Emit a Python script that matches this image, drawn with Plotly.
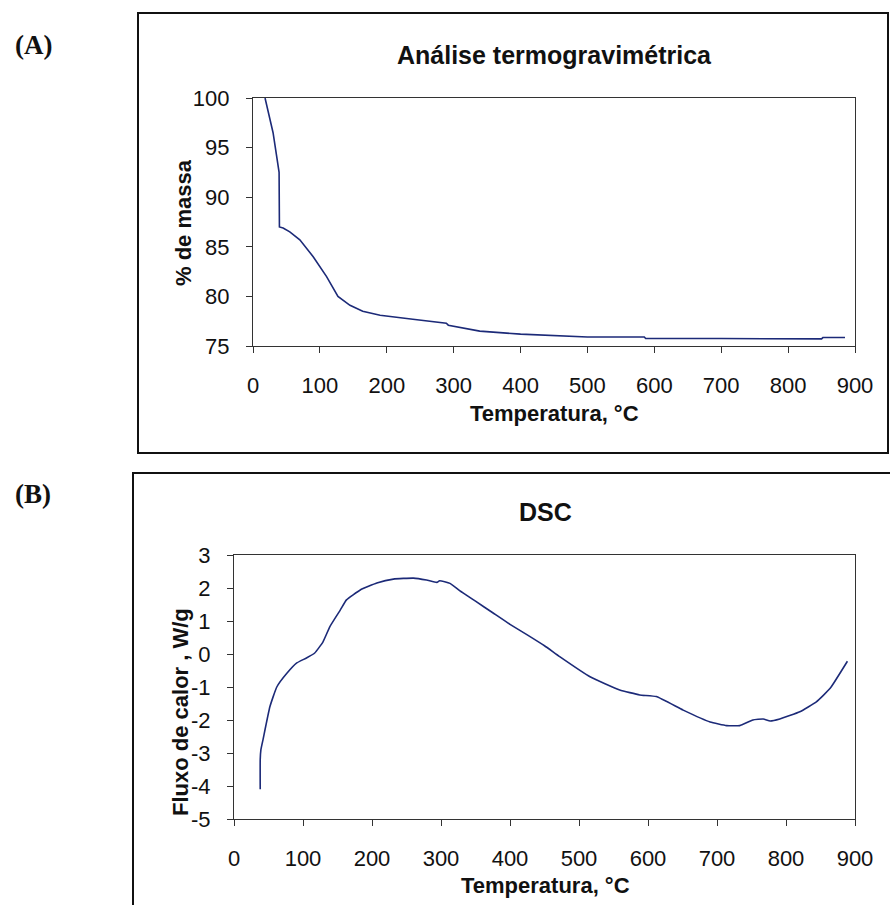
import plotly.graph_objects as go

# ---------------- data ----------------
tga_temp = [18, 25, 30, 35, 38, 39, 39.5, 45, 55, 70, 90, 110, 127, 145, 164, 190,
            239, 289, 292, 300, 339, 400, 450, 500, 585, 587, 700, 800, 850, 852, 885]
tga_mass = [100, 98.0, 96.5, 94.3, 93.0, 92.5, 87.0, 86.9, 86.5, 85.7, 84.0, 82.0, 80.0,
            79.1, 78.5, 78.1, 77.7, 77.3, 77.1, 77.0, 76.5, 76.2, 76.05, 75.9, 75.9,
            75.75, 75.75, 75.72, 75.72, 75.85, 75.85]

dsc_temp = [38, 38, 39, 42, 52, 62, 76, 91, 105, 117, 129, 139, 154, 163, 183, 207,
            231, 260, 279, 294, 298, 313, 327, 350, 375, 400, 425, 450, 472, 516,
            559, 588, 612, 651, 690, 714, 733, 752, 767, 777, 791, 820, 844, 864, 889]
dsc_flow = [-4.1, -3.2, -2.9, -2.6, -1.6, -1.0, -0.6, -0.27, -0.12, 0.03, 0.37, 0.83,
            1.33, 1.64, 1.94, 2.15, 2.27, 2.30, 2.24, 2.17, 2.22, 2.14, 1.92, 1.6,
            1.25, 0.9, 0.58, 0.25, -0.08, -0.69, -1.09, -1.24, -1.29, -1.7, -2.06,
            -2.17, -2.17, -2.0, -1.97, -2.03, -1.97, -1.75, -1.45, -1.04, -0.22]

x_ticks = [0, 100, 200, 300, 400, 500, 600, 700, 800, 900]
x_ticktext = ["0", "100", "200", "300", "400", "500", "600", "700", "800", "900"]
tga_yticks = [75, 80, 85, 90, 95, 100]
tga_yticktext = ["75", "80", "85", "90", "95", "100"]
dsc_yticks = [-5, -4, -3, -2, -1, 0, 1, 2, 3]
dsc_yticktext = ["-5", "-4", "-3", "-2", "-1", "0", "1", "2", "3"]

title_a = "Análise termogravimétrica"
title_b = "DSC"
xtitle = "Temperatura, °C"
ytitle_a = "% de massa"
ytitle_b = "Fluxo de calor , W/g"

# ---------------- layout helpers ----------------
W, H = 890, 905
def px(x):
    return x / W
def py(y):
    return 1 - y / H

LINE = "#1c2a78"
FONT = "Liberation Sans"
TICKF = dict(family=FONT, size=22, color="#111111")

fig = go.Figure()
fig.add_trace(go.Scatter(x=tga_temp, y=tga_mass, mode="lines",
                         line=dict(color=LINE, width=1.6), xaxis="x", yaxis="y",
                         showlegend=False))
fig.add_trace(go.Scatter(x=dsc_temp, y=dsc_flow, mode="lines",
                         line=dict(color=LINE, width=1.6, shape="spline", smoothing=0.4),
                         xaxis="x2", yaxis="y2", showlegend=False))

axis_common = dict(showgrid=False, zeroline=False, showline=True, linecolor="#333333",
                   linewidth=1.3, mirror=True, ticks="outside", ticklen=6,
                   tickcolor="#333333", tickwidth=1.3, tickfont=TICKF, fixedrange=True,
                   automargin=False)

fig.update_layout(
    width=W, height=H, margin=dict(l=0, r=0, t=0, b=0, pad=0), autosize=False,
    paper_bgcolor="white", plot_bgcolor="white",
    xaxis=dict(domain=[px(253), px(855)], range=[0, 900], tickvals=x_ticks,
               ticktext=x_ticktext, anchor="y", ticklabelstandoff=13, **axis_common),
    yaxis=dict(domain=[py(346), py(98)], range=[75, 100], tickvals=tga_yticks,
               ticktext=tga_yticktext, anchor="x", ticklabelstandoff=12, **axis_common),
    xaxis2=dict(domain=[px(234), px(855)], range=[0, 900], tickvals=x_ticks,
                ticktext=x_ticktext, anchor="y2", ticklabelstandoff=13, **axis_common),
    yaxis2=dict(domain=[py(819), py(555)], range=[-5, 3], tickvals=dsc_yticks,
                ticktext=dsc_yticktext, anchor="x2", ticklabelstandoff=12, **axis_common),
)

# outer frames
fig.add_shape(type="rect", xref="paper", yref="paper", x0=px(138), x1=px(888),
              y0=py(453), y1=py(13), line=dict(color="#111111", width=2))
fig.add_shape(type="rect", xref="paper", yref="paper", x0=px(133), x1=px(900),
              y0=py(920), y1=py(473), line=dict(color="#111111", width=2))

def ann(text, x, y, size, bold=True, family=FONT, angle=0):
    fig.add_annotation(text=("<b>%s</b>" % text) if bold else text, x=px(x), y=py(y),
                       xref="paper", yref="paper", showarrow=False, textangle=angle,
                       xanchor="center", yanchor="middle",
                       font=dict(family=family, size=size, color="#111111"))

ann("(A)", 33, 45, 27, family="Liberation Serif")
ann("(B)", 33, 494, 27, family="Liberation Serif")
ann(title_a, 554, 55, 25)
ann(title_b, 545, 512, 25)
ann(xtitle, 554, 413, 22)
ann(xtitle, 545, 885, 22)
ann(ytitle_a, 183, 223, 22, angle=-90)
ann(ytitle_b, 180, 712, 22, angle=-90)

fig.write_html("out.html",
               post_script="document.body.style.margin='0';"
                           "document.body.style.overflow='hidden';"
                           "document.documentElement.style.overflow='hidden';")
